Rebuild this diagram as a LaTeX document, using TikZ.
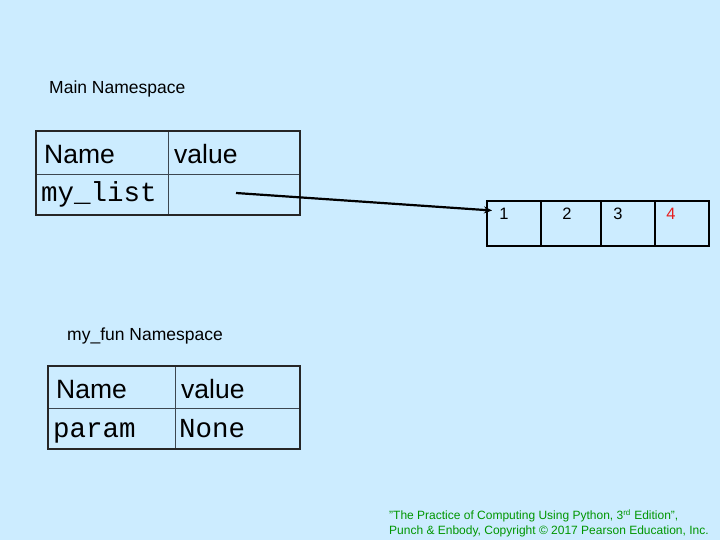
\documentclass[tikz,border=0pt]{standalone}
\usepackage{fontspec}
\setmainfont{Liberation Sans}
\newfontfamily\codefont{Liberation Mono}
\usetikzlibrary{arrows.meta}
\definecolor{bgblue}{RGB}{204,236,255}
\definecolor{gridline}{RGB}{60,70,80}
\definecolor{credit}{RGB}{0,150,0}
\definecolor{itemred}{RGB}{230,30,30}
\tikzset{
  cell/.style={draw=gridline, line width=1.3pt, inner sep=0pt, anchor=north west},
  frame/.style={draw=black!85, line width=2pt},
  head/.style={anchor=base west, inner sep=0pt, font=\fontsize{26.5}{30}\selectfont},
  code/.style={anchor=base west, inner sep=0pt, font=\codefont\fontsize{27.5}{31}\selectfont},
  label/.style={anchor=base west, inner sep=0pt, font=\fontsize{17.5}{21}\selectfont},
  slot/.style={draw=black, line width=2pt, inner sep=0pt, anchor=north west, minimum height=45pt},
  item/.style={anchor=base, inner sep=0pt, font=\fontsize{16.5}{19}\selectfont},
}
\begin{document}
\begin{tikzpicture}[x=1pt,y=-1pt]
\fill[bgblue] (0,0) rectangle (720,540);
\useasboundingbox (0,0) rectangle (720,540);

% Main namespace table
\node[label] (mainlbl) at (49,94) {Main Namespace};
\node[cell, minimum width=132pt, minimum height=43pt] (m11) at (36,131) {};
\node[cell, minimum width=132pt, minimum height=43pt] (m12) at (168,131) {};
\node[cell, minimum width=132pt, minimum height=41pt] (m21) at (36,174) {};
\node[cell, minimum width=132pt, minimum height=41pt] (m22) at (168,174) {};
\draw[frame] (36,131) rectangle (300,215);
\node[head] (mname) at (44,164) {Name};
\node[head] (mval) at (174,164) {value};
\node[code] (mvar) at (41,201.5) {my\_list};
\coordinate (ref) at (236,193);

% List object
\node[slot, minimum width=54pt] (s1) at (486,200) {};
\node[slot, minimum width=60pt] (s2) at (540,200) {};
\node[slot, minimum width=54pt] (s3) at (600,200) {};
\node[slot, minimum width=54pt] (s4) at (654,200) {};
\node[item] (v1) at (504,219) {1};
\node[item] (v2) at (567,219) {2};
\node[item] (v3) at (618,219) {3};
\node[item, text=itemred] (v4) at (671,219) {4};
\coordinate (tip) at (492,210.5);
\draw[line width=2.2pt, -{Stealth[length=8pt,width=7pt]}] (ref) -- (tip);

% my_fun namespace table
\node[label] (funlbl) at (67,340) {my\_fun Namespace};
\node[cell, minimum width=127pt, minimum height=42pt] (f11) at (48,366) {};
\node[cell, minimum width=125pt, minimum height=42pt] (f12) at (175,366) {};
\node[cell, minimum width=127pt, minimum height=41pt] (f21) at (48,408) {};
\node[cell, minimum width=125pt, minimum height=41pt] (f22) at (175,408) {};
\draw[frame] (48,366) rectangle (300,449);
\node[head] (fname) at (56,398) {Name};
\node[head] (fval) at (181,398) {value};
\node[code] (fvar) at (53,437) {param};
\node[code] (fnone) at (179,437) {None};

% Credit line
\node[anchor=north west, inner sep=0pt, align=left, text=credit,
      font=\fontsize{12}{15.5}\selectfont] (credit) at (389,509)
  {"The Practice of Computing Using Python, 3\textsuperscript{rd} Edition",\\
   Punch \& Enbody, Copyright \textcopyright{} 2017 Pearson Education, Inc.};
\end{tikzpicture}
\end{document}
